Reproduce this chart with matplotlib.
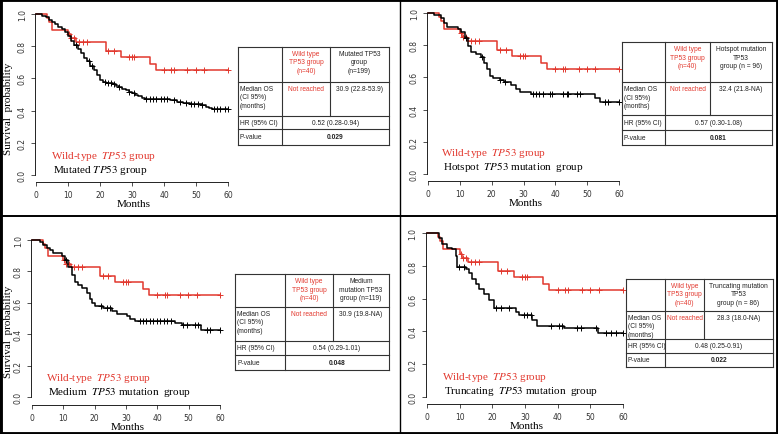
import numpy as np
import matplotlib
matplotlib.use("Agg")
import matplotlib.pyplot as plt
from matplotlib.lines import Line2D
from matplotlib.patches import Rectangle

plt.rcParams['mathtext.fontset'] = 'stix'

W, H = 778, 435
RED = '#e2382e'

# wild-type TP53 group (n=40), same curve in every panel
wt_t = [0, 3.4, 4.0, 5.0, 10.0, 10.8, 12.4, 21.8, 26.5, 35.5, 37.4]
wt_s = [1.0, 0.975, 0.95, 0.90, 0.875, 0.85, 0.825, 0.77, 0.73, 0.69, 0.65]
wt_c = [10.3, 11.0, 11.9, 13.4, 14.8, 16.0, 22.5, 24.4, 29.0, 29.9, 30.6,
        40.0, 42.3, 43.1, 47.3, 49.9, 52.5, 60.0]

# mutated TP53 (n=199)
mut_t = [0, 2, 3, 4, 5, 6, 7, 8, 9, 10, 11, 12, 13, 14, 15, 16, 17, 18, 19, 20,
         21, 22, 24, 25, 26, 27, 28, 29, 30, 31, 32, 33, 34, 42, 44, 46, 48, 52,
         53, 54, 55]
mut_s = [1.0, 0.99, 0.98, 0.965, 0.95, 0.935, 0.92, 0.905, 0.89, 0.865, 0.835,
         0.81, 0.785, 0.755, 0.725, 0.705, 0.68, 0.655, 0.62, 0.59, 0.578, 0.572,
         0.565, 0.555, 0.545, 0.535, 0.525, 0.515, 0.51, 0.50, 0.49, 0.48, 0.47,
         0.465, 0.455, 0.45, 0.44, 0.435, 0.425, 0.415, 0.41]
mut_c = [12.5, 16.5, 17.5, 21.5, 22.5, 23.5, 24.5, 26.0, 29.0, 30.5, 34.5, 35.5,
         36.5, 37.5, 39.0, 40.0, 41.0, 43.0, 45.0, 47.0, 48.5, 49.5, 50.5, 52.0,
         55.5, 56.5, 57.5, 59.0, 60.0]

# hotspot mutation (n=96)
hot_t = [0, 2, 4, 5, 6, 9.5, 10.5, 11.5, 12.5, 13.5, 15, 16.5, 17.5, 18.5, 19.5,
         20.5, 22.5, 24, 26, 27.5, 28.8, 32.5, 52.5, 54]
hot_s = [1.0, 0.99, 0.97, 0.94, 0.91, 0.90, 0.88, 0.845, 0.795, 0.76, 0.745,
         0.725, 0.69, 0.65, 0.61, 0.595, 0.585, 0.57, 0.55, 0.53, 0.51, 0.50,
         0.475, 0.45]
hot_c = [12.0, 17.0, 22.6, 24.2, 33.0, 34.0, 35.0, 36.2, 38.3, 38.8, 42.5, 43.6,
         44.0, 46.7, 47.7, 55.6, 56.6, 60.0]

# medium mutation (n=119)
med_t = [0, 2.5, 3.5, 4.7, 5.8, 6.8, 9.5, 10.5, 11.6, 12.7, 13.7, 14.8, 15.9,
         17.4, 18.5, 19.3, 20.1, 22.8, 25.4, 27, 30.2, 31.3, 32.9, 45.6, 47.8, 54]
med_s = [1.0, 0.99, 0.97, 0.95, 0.935, 0.92, 0.90, 0.87, 0.825, 0.775, 0.735,
         0.715, 0.695, 0.665, 0.625, 0.60, 0.58, 0.57, 0.55, 0.53, 0.515, 0.50,
         0.487, 0.472, 0.457, 0.425]
med_c = [11.0, 22.0, 24.0, 25.0, 34.5, 35.5, 36.5, 37.5, 38.5, 40.0, 41.0, 42.0,
         43.0, 44.5, 48.3, 49.4, 52.0, 53.0, 55.7, 56.8, 60.0]

# truncating mutation (n=86)
tru_t = [0, 3.7, 4.7, 6.2, 7.8, 8.8, 9.3, 11.8, 12.9, 13.9, 14.9, 15.9, 17.4,
         19, 20.5, 27.3, 28.2, 32.2, 33.8, 42, 52.2]
tru_s = [1.0, 0.97, 0.93, 0.91, 0.90, 0.86, 0.79, 0.78, 0.755, 0.72, 0.69, 0.66,
         0.63, 0.59, 0.54, 0.52, 0.50, 0.47, 0.435, 0.418, 0.39]
tru_c = [9.8, 11.3, 21.0, 22.5, 25.1, 29.7, 30.7, 31.7, 37.9, 40.4, 41.4, 46.0,
         47.0, 51.6, 54.7, 56.2, 57.8, 60.0]

legend_names = ["Mutated $\\mathit{TP53}$ group",
                "Hotspot  $\\mathit{TP53}$ mutation  group",
                "Medium  $\\mathit{TP53}$ mutation  group",
                "Truncating  $\\mathit{TP53}$ mutation  group"]
group_heads = ["Mutated TP53\ngroup\n(n=199)",
               "Hotspot mutation\nTP53\ngroup (n = 96)",
               "Medium\nmutation TP53\ngroup (n=119)",
               "Truncating mutation\nTP53\ngroup (n = 86)"]
median_os = ["30.9 (22.8-53.9)", "32.4 (21.8-NA)", "30.9 (19.8-NA)", "28.3 (18.0-NA)"]
hr_ci = ["0.52 (0.28-0.94)", "0.57 (0.30-1.08)", "0.54 (0.29-1.01)", "0.48 (0.25-0.91)"]
p_vals = ["0.029", "0.081", "0.048", "0.022"]

fig = plt.figure(figsize=(W / 100, H / 100), dpi=100)


def fx(px):
    return px / W


def fy(py):
    return 1 - py / H


def km_panel(x0, x60, y1, y0, ybase, t, s, c, name, ylab, leg_xy):
    ppm = (x60 - x0) / 60.0
    ppu = (y0 - y1)
    xl, xr = -0.3, 61.5
    ytop = 1.03
    ybot = -(ybase - y0) / ppu
    left = x0 + xl * ppm
    right = x0 + xr * ppm
    top = y1 - (ytop - 1) * ppu
    ax = fig.add_axes([fx(left), fy(ybase), (right - left) / W, (ybase - top) / H])
    ax.patch.set_alpha(0)
    for tt, ss, cc, col in [(wt_t, wt_s, wt_c, RED), (t, s, c, 'black')]:
        tt = np.array(tt); ss = np.array(ss)
        ax.step(np.append(tt, 60), np.append(ss, ss[-1]), where='post', color=col, lw=1.1)
        cc = np.array(cc)
        cy = ss[np.searchsorted(tt, cc, side='right') - 1]
        ax.plot(cc, cy, '+', color=col, ms=4, mew=0.7)
    ax.set_xlim(xl, xr)
    ax.set_ylim(ybot, ytop)
    for sp in ['top', 'right']:
        ax.spines[sp].set_visible(False)
    ax.spines['left'].set_bounds(0, 1)
    ax.spines['bottom'].set_bounds(0, 60)
    ax.spines['left'].set_linewidth(0.6)
    ax.spines['bottom'].set_linewidth(0.6)
    ax.set_xticks(range(0, 61, 10))
    ax.set_yticks(np.arange(0, 1.01, 0.2))
    ax.set_yticklabels(['0.0', '0.2', '0.4', '0.6', '0.8', '1.0'], rotation=90, va='center')
    ax.tick_params(direction='out', length=3, width=0.6, labelsize=5.5,
                   colors='#333333', pad=3)
    ax.set_xlabel('Months', family='Liberation Serif', fontsize=8, labelpad=0)
    if ylab:
        fig.text(fx(9), fy(y1 + 0.58 * ppu), 'Survival  probability', rotation=90,
                 family='Liberation Serif', fontsize=8, ha='center', va='center')
    fig.text(fx(leg_xy[0]), fy(leg_xy[1]), 'Wild-type  $\\mathit{TP53}$ group',
             color=RED, family='Liberation Serif', fontsize=8, va='center')
    fig.text(fx(leg_xy[0] + 2), fy(leg_xy[1] + 14), name,
             color='black', family='Liberation Serif', fontsize=8, va='center')
    return ax


def hline(x_a, x_b, y, lw=0.8):
    fig.add_artist(Line2D([fx(x_a), fx(x_b)], [fy(y), fy(y)], color='#333333', lw=lw,
                          transform=fig.transFigure))


def vline(x, y_a, y_b, lw=0.8):
    fig.add_artist(Line2D([fx(x), fx(x)], [fy(y_a), fy(y_b)], color='#333333', lw=lw,
                          transform=fig.transFigure))


def table(xe, ye, head, med, hr, p):
    fs = 4.8
    for y in ye:
        hline(xe[0], xe[3], y)
    vline(xe[0], ye[0], ye[4])
    vline(xe[3], ye[0], ye[4])
    vline(xe[1], ye[0], ye[4])
    vline(xe[2], ye[0], ye[2])
    tk = dict(family='Liberation Sans', fontsize=fs, transform=fig.transFigure)
    c1 = (xe[1] + xe[2]) / 2
    c2 = (xe[2] + xe[3]) / 2
    fig.text(fx(c1), fy(ye[0] + 3), 'Wild type\nTP53 group\n(n=40)', color=RED,
             ha='center', va='top', linespacing=1.3, **tk)
    fig.text(fx(c2), fy(ye[0] + 3), head, color='#222222', ha='center', va='top',
             linespacing=1.3, **tk)
    fig.text(fx(xe[0] + 2), fy(ye[1] + 3), 'Median OS\n(CI 95%)\n(months)',
             color='#222222', ha='left', va='top', linespacing=1.3, **tk)
    fig.text(fx(c1), fy(ye[1] + 3), 'Not reached', color=RED, ha='center', va='top', **tk)
    fig.text(fx(c2), fy(ye[1] + 3), med, color='#222222', ha='center', va='top', **tk)
    fig.text(fx(xe[0] + 2), fy((ye[2] + ye[3]) / 2), 'HR (95% CI)', color='#222222',
             ha='left', va='center', **tk)
    fig.text(fx((xe[1] + xe[3]) / 2), fy((ye[2] + ye[3]) / 2), hr, color='#222222',
             ha='center', va='center', **tk)
    fig.text(fx(xe[0] + 2), fy((ye[3] + ye[4]) / 2), 'P-value', color='#222222',
             ha='left', va='center', **tk)
    fig.text(fx((xe[1] + xe[3]) / 2), fy((ye[3] + ye[4]) / 2), p, color='#222222',
             ha='center', va='center', fontweight='bold', **tk)


km_panel(36, 228, 15, 176, 182.7, mut_t, mut_s, mut_c, legend_names[0], True, (51, 156))
km_panel(428, 619, 14, 175, 181.7, hot_t, hot_s, hot_c, legend_names[1], False, (441, 153))
km_panel(32, 220, 241, 398, 405.5, med_t, med_s, med_c, legend_names[2], True, (46, 378.5))
km_panel(427, 623, 234, 398, 404.7, tru_t, tru_s, tru_c, legend_names[3], False, (442, 377))

table([238, 282, 330, 389], [48, 82.7, 116.7, 130, 145.7],
      group_heads[0], median_os[0], hr_ci[0], p_vals[0])
table([622, 665, 710, 772], [43.3, 83.3, 116, 131, 145.7],
      group_heads[1], median_os[1], hr_ci[1], p_vals[1])
table([235, 285, 333, 389], [275.3, 308, 342, 355.7, 371.3],
      group_heads[2], median_os[2], hr_ci[2], p_vals[2])
table([626, 665, 704, 772.7], [279.7, 312, 339.7, 354, 368],
      group_heads[3], median_os[3], hr_ci[3], p_vals[3])

# quadrant dividers and outer frame
fig.add_artist(Line2D([0, 1], [fy(217), fy(217)], color='black', lw=1.4,
                      transform=fig.transFigure))
fig.add_artist(Line2D([fx(400), fx(400)], [0, 1], color='black', lw=1.0,
                      transform=fig.transFigure))
fig.add_artist(Rectangle((0, 0), 1, 1, fill=False, edgecolor='black', lw=3.5,
                         transform=fig.transFigure))

fig.savefig('out.png', dpi=100)
